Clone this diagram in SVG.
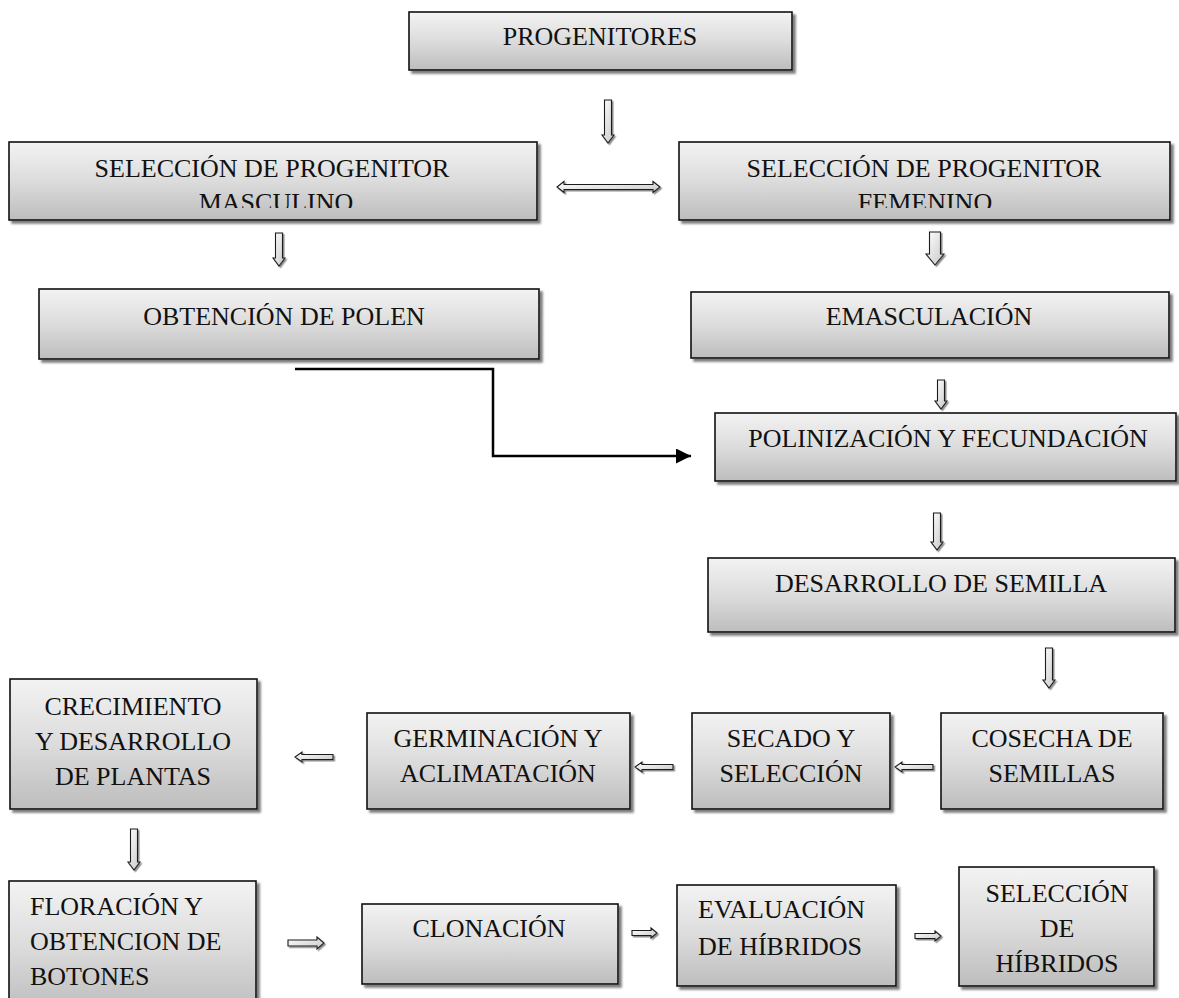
<svg xmlns="http://www.w3.org/2000/svg" width="1179" height="998" viewBox="0 0 1179 998">
<defs>
  <linearGradient id="bg" x1="0" y1="0" x2="0" y2="1">
    <stop offset="0" stop-color="#f3f3f3"/>
    <stop offset="0.5" stop-color="#dcdcdc"/>
    <stop offset="1" stop-color="#bdbdbd"/>
  </linearGradient>
  <linearGradient id="ag" x1="0" y1="0" x2="1" y2="1">
    <stop offset="0" stop-color="#ffffff"/>
    <stop offset="1" stop-color="#c8c8c8"/>
  </linearGradient>
  <filter id="sh" x="-10%" y="-10%" width="130%" height="130%">
    <feDropShadow dx="3" dy="3" stdDeviation="0.8" flood-color="#6e6e6e" flood-opacity="0.9"/>
  </filter>
  <filter id="ash" x="-30%" y="-30%" width="180%" height="180%">
    <feDropShadow dx="1.5" dy="1.5" stdDeviation="0.6" flood-color="#808080" flood-opacity="0.9"/>
  </filter>
  <clipPath id="clipM"><rect x="9" y="142" width="528" height="66"/></clipPath>
  <clipPath id="clipF"><rect x="679" y="142" width="491" height="66"/></clipPath>
  <marker id="tri" viewBox="0 0 10 10" refX="10" refY="5" markerWidth="6" markerHeight="6" markerUnits="strokeWidth" orient="auto">
    <path d="M0,0 L10,5 L0,10 Z" fill="#000"/>
  </marker>
  <style>
    .box { fill: url(#bg); stroke: #111; stroke-width: 1.6; filter: url(#sh); }
    .t { font-family: "Liberation Serif", "Times New Roman", serif; font-size: 26px; fill: #111; }
    .c { text-anchor: middle; }
    .arr { fill: url(#ag); stroke: #1a1a1a; stroke-width: 1.1; stroke-linejoin: miter; filter: url(#ash); }
    .line { fill: none; stroke: #000; stroke-width: 2.5; }
  </style>
</defs>
<rect width="1179" height="998" fill="#ffffff"/>

<g id="connectors">
  <path class="arr" d="M604.5,100 H611.5 V135 H614 L608,143 L602,135 H604.5 Z"/>
  <path class="arr" d="M557,187 L564,181.5 V184.5 H653 V181.5 L660,187 L653,192.5 V189.5 H564 V192.5 Z"/>
  <path class="arr" d="M275.5,233 H282.5 V258 H285 L279,266 L273,258 H275.5 Z"/>
  <path class="arr" d="M929.5,232 H940.5 V254 H944 L935,265 L926,254 H929.5 Z"/>
  <path class="arr" d="M937.5,380 H944.5 V401 H947 L941,409 L935,401 H937.5 Z"/>
  <path class="line" d="M295,369 H493 V456 H691" marker-end="url(#tri)"/>
  <path class="arr" d="M933.5,513 H940.5 V542 H943 L937,550 L931,542 H933.5 Z"/>
  <path class="arr" d="M1045.5,648 H1052.5 V680 H1055 L1049,688 L1043,680 H1045.5 Z"/>
  <path class="arr" d="M933,764.5 V769.5 H902 V772 L895,767 L902,762 V764.5 Z"/>
  <path class="arr" d="M673,764.5 V769.5 H642 V772 L635,767 L642,762 V764.5 Z"/>
  <path class="arr" d="M333,754.5 V759.5 H302 V762 L295,757 L302,752 V754.5 Z"/>
  <path class="arr" d="M130.5,829 H137.5 V862 H140 L134,870 L128,862 H130.5 Z"/>
  <path class="arr" d="M288,940 V946 H317 V949 L324,943 L317,937 V940 Z"/>
  <path class="arr" d="M632,930.5 V935.5 H651 V938 L657,933 L651,928 V930.5 Z"/>
  <path class="arr" d="M915,933.5 V938.5 H935 V941 L941,936 L935,931 V933.5 Z"/>
</g>

<g id="progenitores">
  <rect class="box" x="409" y="12" width="383" height="58"/>
  <text class="t c" x="600" y="45">PROGENITORES</text>
</g>

<g id="sel-masculino">
  <rect class="box" x="9" y="142" width="528" height="78"/>
  <g clip-path="url(#clipM)">
    <text class="t c" x="272" y="177">SELECCIÓN DE PROGENITOR</text>
    <text class="t c" x="276" y="211">MASCULINO</text>
  </g>
</g>

<g id="sel-femenino">
  <rect class="box" x="679" y="142" width="491" height="78"/>
  <g clip-path="url(#clipF)">
    <text class="t c" x="924" y="177">SELECCIÓN DE PROGENITOR</text>
    <text class="t c" x="925" y="211">FEMENINO</text>
  </g>
</g>

<g id="obtencion-polen">
  <rect class="box" x="39" y="289" width="500" height="70"/>
  <text class="t c" x="284" y="325">OBTENCIÓN DE POLEN</text>
</g>

<g id="emasculacion">
  <rect class="box" x="691" y="292" width="478" height="66"/>
  <text class="t c" x="929" y="325">EMASCULACIÓN</text>
</g>

<g id="polinizacion">
  <rect class="box" x="715" y="413" width="461" height="68"/>
  <text class="t c" x="948" y="447">POLINIZACIÓN Y FECUNDACIÓN</text>
</g>

<g id="desarrollo-semilla">
  <rect class="box" x="708" y="558" width="467" height="74"/>
  <text class="t c" x="941" y="592">DESARROLLO DE SEMILLA</text>
</g>

<g id="cosecha">
  <rect class="box" x="941" y="713" width="222" height="96"/>
  <text class="t c" x="1052" y="747">COSECHA DE</text>
  <text class="t c" x="1052" y="782">SEMILLAS</text>
</g>

<g id="secado">
  <rect class="box" x="692" y="713" width="198" height="96"/>
  <text class="t c" x="791" y="747">SECADO Y</text>
  <text class="t c" x="791" y="782">SELECCIÓN</text>
</g>

<g id="germinacion">
  <rect class="box" x="367" y="713" width="263" height="96"/>
  <text class="t c" x="498" y="747">GERMINACIÓN Y</text>
  <text class="t c" x="498" y="782">ACLIMATACIÓN</text>
</g>

<g id="crecimiento">
  <rect class="box" x="10" y="679" width="247" height="130"/>
  <text class="t c" x="133" y="715">CRECIMIENTO</text>
  <text class="t c" x="133" y="750">Y DESARROLLO</text>
  <text class="t c" x="133" y="785">DE PLANTAS</text>
</g>

<g id="floracion">
  <rect class="box" x="9" y="881" width="247" height="130"/>
  <text class="t" x="30" y="915">FLORACIÓN Y</text>
  <text class="t" x="30" y="950">OBTENCION DE</text>
  <text class="t" x="30" y="985">BOTONES</text>
</g>

<g id="clonacion">
  <rect class="box" x="362" y="904" width="256" height="80"/>
  <text class="t c" x="489" y="937">CLONACIÓN</text>
</g>

<g id="evaluacion">
  <rect class="box" x="677" y="885" width="219" height="101"/>
  <text class="t" x="698" y="918">EVALUACIÓN</text>
  <text class="t" x="698" y="955">DE HÍBRIDOS</text>
</g>

<g id="seleccion-hibridos">
  <rect class="box" x="959" y="867" width="195" height="119"/>
  <text class="t c" x="1057" y="902">SELECCIÓN</text>
  <text class="t c" x="1057" y="937">DE</text>
  <text class="t c" x="1057" y="972">HÍBRIDOS</text>
</g>
</svg>
